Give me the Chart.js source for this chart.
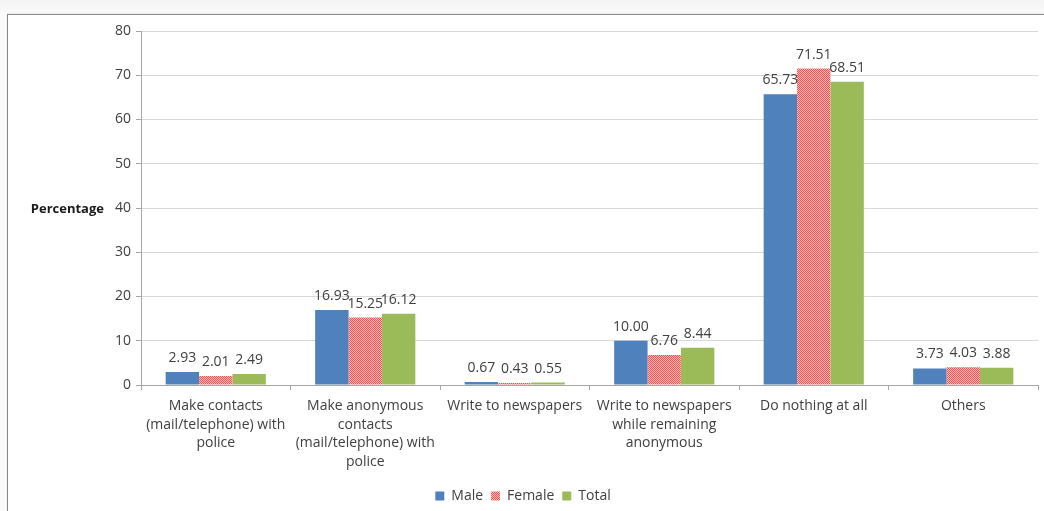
<!DOCTYPE html>
<html>
<head>
<meta charset="utf-8">
<script src="https://cdn.jsdelivr.net/npm/chart.js@4/dist/chart.umd.min.js"></script>
<style>
  html, body { margin: 0; padding: 0; }
  body {
    width: 1044px; height: 511px; overflow: hidden; position: relative;
    background: linear-gradient(#f3f3f3, #fbfbfb 14px, #fbfbfb);
  }
  .frame {
    position: absolute; left: 7px; top: 14px; width: 1060px; height: 520px;
    background: #ffffff; border-top: 1px solid #8a8a8a; border-left: 1px solid #8a8a8a;
    box-shadow: 0 -1px 2px rgba(0,0,0,0.08);
  }
  .wrap { position: absolute; left: 8px; top: 15px; width: 1036px; height: 498px; }
</style>
</head>
<body>
<div class="frame"></div>
<div class="wrap"><canvas id="c"></canvas></div>
<script>
// Responses by category, in percent
const categories = [
  ["Make contacts", "(mail/telephone) with", "police"],
  ["Make anonymous", "contacts", "(mail/telephone) with", "police"],
  ["Write to newspapers"],
  ["Write to newspapers", "while remaining", "anonymous"],
  ["Do nothing at all"],
  ["Others"]
];
const male   = [2.93, 16.93, 0.67, 10.00, 65.73, 3.73];
const female = [2.01, 15.25, 0.43, 6.76, 71.51, 4.03];
const total  = [2.49, 16.12, 0.55, 8.44, 68.51, 3.88];
const yTicks = [0, 10, 20, 30, 40, 50, 60, 70, 80];

const FONT = "'Open Sans', 'Liberation Sans', sans-serif";
const TEXT = '#404040';

// red/white dotted fill for the Female series
function dottedFill() {
  const p = document.createElement('canvas');
  p.width = 2; p.height = 2;
  const g = p.getContext('2d');
  g.fillStyle = '#ff4f4f'; g.fillRect(0, 0, 2, 2);
  g.fillStyle = '#ffbcbc'; g.fillRect(0, 0, 1, 1); g.fillRect(1, 1, 1, 1);
  return g.createPattern(p, 'repeat');
}
const femaleFill = dottedFill();

// value labels above each bar
const valueLabels = {
  id: 'valueLabels',
  afterDatasetsDraw(chart) {
    const ctx = chart.ctx;
    ctx.save();
    ctx.font = '14px ' + FONT;
    ctx.fillStyle = TEXT;
    ctx.textAlign = 'center';
    ctx.textBaseline = 'alphabetic';
    chart.data.datasets.forEach((ds, di) => {
      chart.getDatasetMeta(di).data.forEach((bar, i) => {
        ctx.fillText(ds.data[i].toFixed(2), bar.x, bar.y - 10);
      });
    });
    ctx.restore();
  }
};

// horizontal axis caption beside the value axis
const sideTitle = {
  id: 'sideTitle',
  afterDraw(chart) {
    const ctx = chart.ctx;
    const y = chart.scales.y.getPixelForValue(40);
    ctx.save();
    ctx.font = 'bold 13px ' + FONT;
    ctx.fillStyle = '#1a1a1a';
    ctx.textAlign = 'right';
    ctx.textBaseline = 'middle';
    ctx.fillText('Percentage', 96, y + 1);
    ctx.restore();
  }
};

new Chart(document.getElementById('c'), {
  type: 'bar',
  data: {
    labels: categories,
    datasets: [
      { label: 'Male',   data: male,   backgroundColor: '#4f81bd' },
      { label: 'Female', data: female, backgroundColor: femaleFill },
      { label: 'Total',  data: total,  backgroundColor: '#9bbb59' }
    ]
  },
  options: {
    responsive: true,
    maintainAspectRatio: false,
    animation: false,
    datasets: { bar: { categoryPercentage: 0.67, barPercentage: 1.0, borderWidth: 0 } },
    layout: { padding: { top: 16, right: 6, left: 0, bottom: 0 } },
    plugins: {
      tooltip: { enabled: false },
      legend: {
        position: 'bottom',
        labels: {
          font: { family: FONT, size: 14 },
          color: TEXT,
          boxWidth: 9, boxHeight: 9,
          padding: 8
        }
      }
    },
    scales: {
      x: {
        grid: { offset: true, drawOnChartArea: false, drawTicks: true, tickLength: 5, color: '#a6a6a6' },
        border: { color: '#a6a6a6' },
        ticks: { font: { family: FONT, size: 14, lineHeight: 1.32 }, color: TEXT, padding: 7, maxRotation: 0, autoSkip: false },
        afterFit(s) { s.height = 96; }
      },
      y: {
        min: 0, max: 80,
        afterBuildTicks(s) { s.ticks = yTicks.map(v => ({ value: v })); },
        grid: { color: '#d9d9d9', tickLength: 5, tickColor: '#a6a6a6' },
        border: { color: '#a6a6a6' },
        ticks: { font: { family: FONT, size: 14 }, color: TEXT, padding: 5 },
        afterFit(s) { s.width = 133; }
      }
    }
  },
  plugins: [valueLabels, sideTitle]
});
</script>
</body>
</html>
